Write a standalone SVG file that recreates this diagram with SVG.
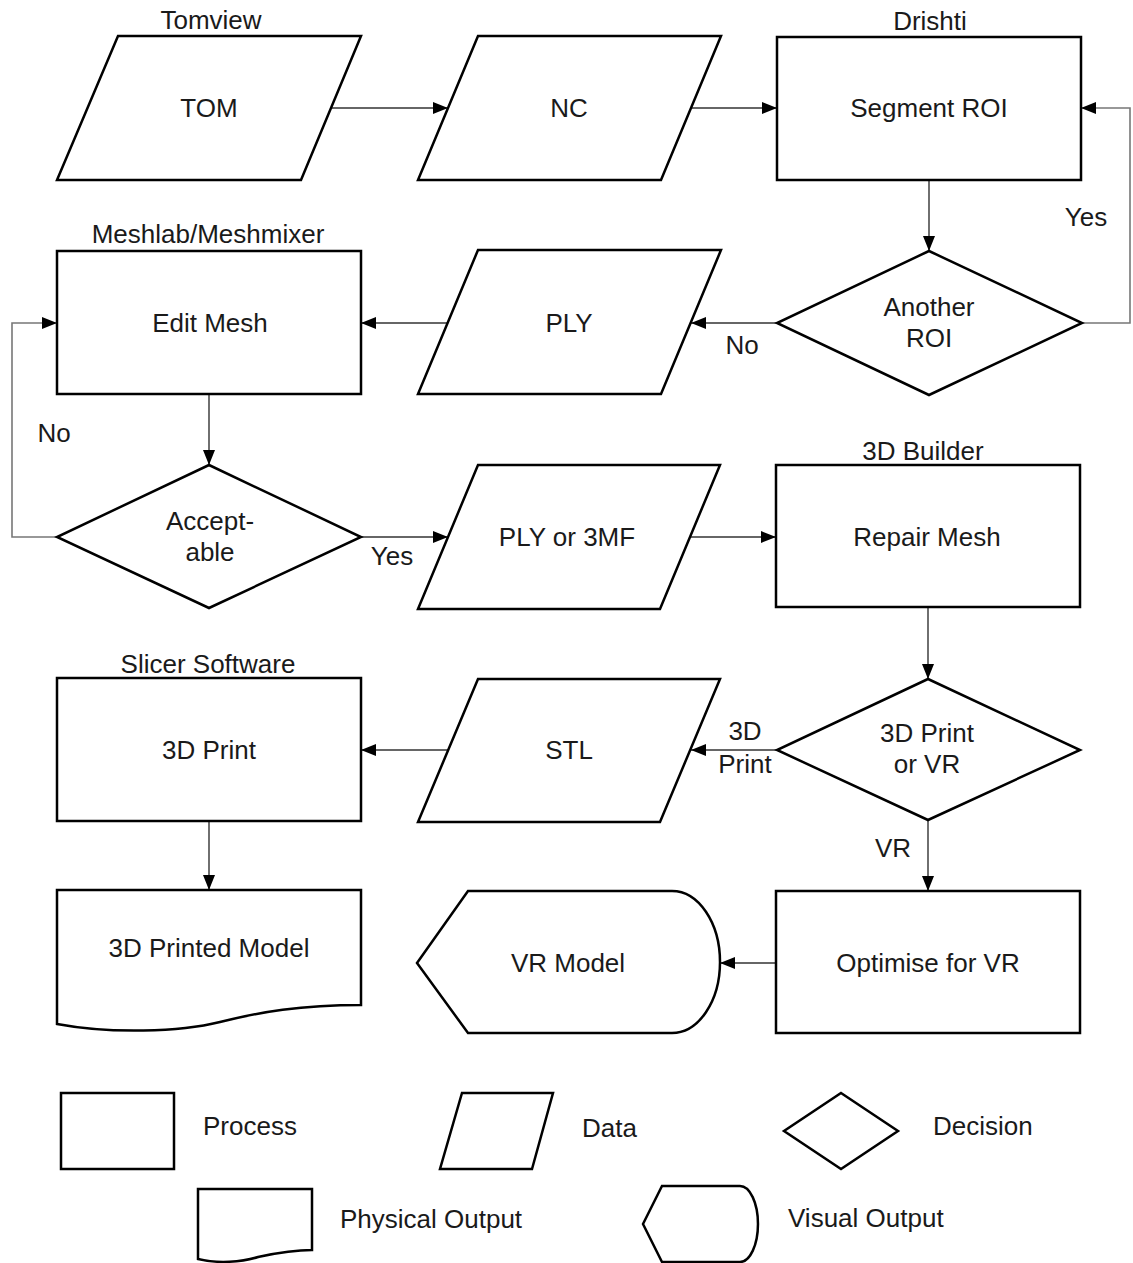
<svg xmlns="http://www.w3.org/2000/svg" width="1133" height="1263" viewBox="0 0 1133 1263">
<defs>
<marker id="ah" markerUnits="userSpaceOnUse" markerWidth="15" markerHeight="12" refX="15" refY="6" orient="auto">
<path d="M0,0 L15,6 L0,12 Z" fill="#000"/>
</marker>
<style>
.s{fill:#fff;stroke:#000;stroke-width:2.5;stroke-linejoin:miter}
.t{font-family:"Liberation Sans",Arial,sans-serif;font-size:26px;fill:#1a1a1a;text-anchor:middle}
.l{font-family:"Liberation Sans",Arial,sans-serif;font-size:26px;fill:#1a1a1a;text-anchor:start}
.c{fill:none;stroke:#333;stroke-width:1.4}
.g{fill:none;stroke:#777;stroke-width:1.6}
</style>
</defs>
<rect width="1133" height="1263" fill="#fff"/>

<g id="connectors">
<line class="c" x1="331" y1="108" x2="448" y2="108" marker-end="url(#ah)"/>
<line class="c" x1="691" y1="108" x2="777" y2="108" marker-end="url(#ah)"/>
<line class="c" x1="929" y1="180" x2="929" y2="251" marker-end="url(#ah)"/>
<polyline class="g" points="1082,323 1130,323 1130,108 1081,108" marker-end="url(#ah)"/>
<line class="c" x1="777" y1="323" x2="691" y2="323" marker-end="url(#ah)"/>
<line class="c" x1="448" y1="323" x2="361" y2="323" marker-end="url(#ah)"/>
<line class="c" x1="209" y1="394" x2="209" y2="465" marker-end="url(#ah)"/>
<polyline class="g" points="57,537 12,537 12,323 57,323" marker-end="url(#ah)"/>
<line class="c" x1="361" y1="537" x2="448" y2="537" marker-end="url(#ah)"/>
<line class="c" x1="690" y1="537" x2="776" y2="537" marker-end="url(#ah)"/>
<line class="c" x1="928" y1="607" x2="928" y2="679" marker-end="url(#ah)"/>
<line class="c" x1="777" y1="750" x2="691" y2="750" marker-end="url(#ah)"/>
<line class="c" x1="448" y1="750" x2="361" y2="750" marker-end="url(#ah)"/>
<line class="c" x1="209" y1="821" x2="209" y2="890" marker-end="url(#ah)"/>
<line class="c" x1="928" y1="820" x2="928" y2="891" marker-end="url(#ah)"/>
<line class="c" x1="776" y1="963" x2="720" y2="963" marker-end="url(#ah)"/>
<text class="t" x="1086" y="226">Yes</text>
<text class="t" x="742" y="354">No</text>
<text class="t" x="54" y="442">No</text>
<text class="t" x="392" y="565">Yes</text>
<text class="t" x="745" y="740">3D</text>
<text class="t" x="745" y="773">Print</text>
<text class="t" x="893" y="857">VR</text>
</g>

<g id="tom">
<text class="t" x="211" y="29">Tomview</text>
<polygon class="s" points="118,36 361,36 301,180 57,180"/>
<text class="t" x="209" y="117">TOM</text>
</g>
<g id="nc">
<polygon class="s" points="478,36 721,36 661,180 418,180"/>
<text class="t" x="569" y="117">NC</text>
</g>
<g id="segment">
<text class="t" x="930" y="30">Drishti</text>
<rect class="s" x="777" y="37" width="304" height="143"/>
<text class="t" x="929" y="117">Segment ROI</text>
</g>
<g id="another">
<polygon class="s" points="929,251 1082,323 929,395 777,323"/>
<text class="t" x="929" y="316">Another</text>
<text class="t" x="929" y="347">ROI</text>
</g>
<g id="ply">
<polygon class="s" points="478,250 721,250 661,394 418,394"/>
<text class="t" x="569" y="332">PLY</text>
</g>
<g id="edit">
<text class="t" x="208" y="243">Meshlab/Meshmixer</text>
<rect class="s" x="57" y="251" width="304" height="143"/>
<text class="t" x="210" y="332">Edit Mesh</text>
</g>
<g id="acceptable">
<polygon class="s" points="209,465 361,537 209,608 57,537"/>
<text class="t" x="210" y="530">Accept-</text>
<text class="t" x="210" y="561">able</text>
</g>
<g id="ply3mf">
<polygon class="s" points="478,465 720,465 660,609 418,609"/>
<text class="t" x="567" y="546">PLY or 3MF</text>
</g>
<g id="repair">
<text class="t" x="923" y="460">3D Builder</text>
<rect class="s" x="776" y="465" width="304" height="142"/>
<text class="t" x="927" y="546">Repair Mesh</text>
</g>
<g id="printorvr">
<polygon class="s" points="928,679 1080,750 928,820 777,750"/>
<text class="t" x="927" y="742">3D Print</text>
<text class="t" x="927" y="773">or VR</text>
</g>
<g id="stl">
<polygon class="s" points="478,679 720,679 660,822 418,822"/>
<text class="t" x="569" y="759">STL</text>
</g>
<g id="print">
<text class="t" x="208" y="673">Slicer Software</text>
<rect class="s" x="57" y="678" width="304" height="143"/>
<text class="t" x="209" y="759">3D Print</text>
</g>
<g id="printed">
<path class="s" d="M57,890 H361 V1005 C300,1005 260,1012 220,1022 C180,1032 110,1034 57,1024 Z"/>
<text class="t" x="209" y="957">3D Printed Model</text>
</g>
<g id="optimise">
<rect class="s" x="776" y="891" width="304" height="142"/>
<text class="t" x="928" y="972">Optimise for VR</text>
</g>
<g id="vrmodel">
<path class="s" d="M417,963 L468,891 H672 A48,71 0 0 1 672,1033 H468 Z"/>
<text class="t" x="568" y="972">VR Model</text>
</g>

<g id="legend">
<rect class="s" x="61" y="1093" width="113" height="76"/>
<text class="l" x="203" y="1135">Process</text>
<polygon class="s" points="462,1093 553,1093 532,1169 440,1169"/>
<text class="l" x="582" y="1137">Data</text>
<polygon class="s" points="841,1093 898,1131 841,1169 784,1131"/>
<text class="l" x="933" y="1135">Decision</text>
<path class="s" d="M198,1189 H312 V1250 C290,1250 272,1254 258,1257 C242,1262 218,1264 198,1259 Z"/>
<text class="l" x="340" y="1228">Physical Output</text>
<path class="s" d="M643,1224 L662,1186 H740 A18,38 0 0 1 740,1262 H662 Z"/>
<text class="l" x="788" y="1227">Visual Output</text>
</g>
</svg>
